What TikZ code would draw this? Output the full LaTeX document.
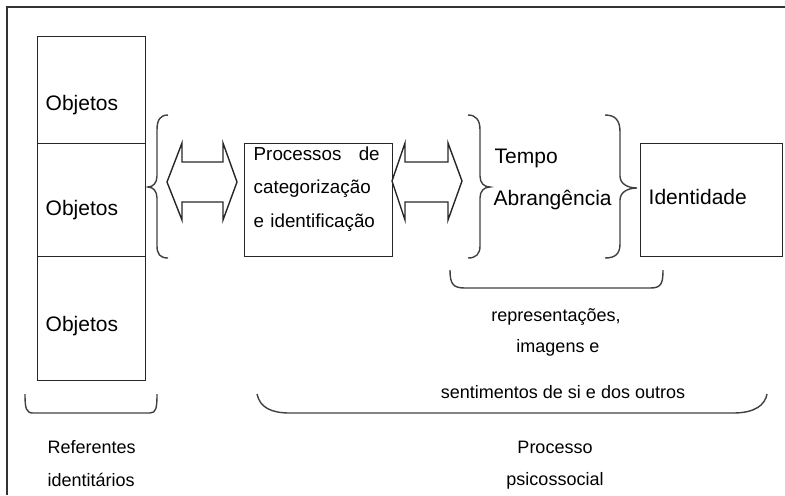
\documentclass[tikz,border=0pt]{standalone}
\usepackage{fontspec}
\setmainfont{Liberation Sans}
\usetikzlibrary{positioning}

\begin{document}
\begin{tikzpicture}[x=0.5pt, y=-0.5pt, line width=0.7pt,
    box/.style = {draw=black!85, inner sep=0pt, anchor=north west},
    bigtext/.style = {inner sep=0pt, anchor=base west, font=\fontsize{10.5}{12}\selectfont},
    smalltext/.style = {inner sep=0pt, anchor=base, font=\fontsize{9}{11}\selectfont},
    curly/.style = {draw=black!75},
    dblarrow/.style = {draw=black!85, line join=miter}]

    \useasboundingbox (0,0) rectangle (785,495);

    % frame
    \draw[black!80] (7,495) -- (7,7) -- (785,7);

    % boxes
    \node[box, minimum width=54pt, minimum height=53.5pt] (obj1) at (37,36) {};
    \node[box, minimum width=54pt, minimum height=56.5pt] (obj2) at (37,143) {};
    \node[box, minimum width=54pt, minimum height=62pt] (obj3) at (37,256) {};
    \node[box, minimum width=74pt, minimum height=56.5pt] (proc) at (244,143) {};
    \node[box, minimum width=71pt, minimum height=56.5pt] (ident) at (640,143) {};

    % texts in the boxes
    \node[bigtext] (tobj1) at (45,110) {Objetos};
    \node[bigtext] (tobj2) at (45,215) {Objetos};
    \node[bigtext] (tobj3) at (45,331) {Objetos};
    \node[inner sep=0pt, anchor=north west, text width=63pt, align=left,
          font=\fontsize{9.4}{16.75}\selectfont] (tproc) at (253,146)
          {Processos\hfill de\\categorização\\e identificação};
    \node[bigtext] (tident) at (648,204) {Identidade};
    \node[bigtext] (ttempo) at (494,163) {Tempo};
    \node[bigtext] (tabr) at (493,205) {Abrangência};

    % braces
    \draw[curly] (168,115) .. controls (160,115) and (157,120) .. (157,130) -- (157,176)
        .. controls (157,183) and (153,187) .. (148,187) .. controls (153,187) and (157,191) .. (157,198)
        -- (157,246) .. controls (157,254) and (160,258) .. (168,258);
    \draw[curly] (468,115) .. controls (476,115) and (480,120) .. (480,130) -- (480,176)
        .. controls (480,183) and (484,187) .. (490,187) .. controls (484,187) and (480,191) .. (480,198)
        -- (480,246) .. controls (480,254) and (476,258) .. (468,258);
    \draw[curly] (605,115) .. controls (615,115) and (620,120) .. (620,132) -- (620,176)
        .. controls (620,184) and (628,188) .. (637,188) .. controls (628,188) and (620,192) .. (620,200)
        -- (620,244) .. controls (620,254) and (615,258) .. (605,258);

    % double arrows
    \draw[dblarrow] (167,182) -- (182,143) -- (182,162) -- (223,162) -- (223,143) -- (237,182)
        -- (223,220) -- (223,202) -- (182,202) -- (182,220) -- cycle;
    \draw[dblarrow] (392,181) -- (405,143) -- (405,162) -- (448,162) -- (448,143) -- (462,181)
        -- (448,220) -- (448,202) -- (405,202) -- (405,220) -- cycle;

    % brackets below
    \draw[curly] (450,270) .. controls (450,284) and (453,288) .. (465,288) -- (650,288)
        .. controls (661,288) and (663,284) .. (663,270);
    \draw[curly] (257,394) .. controls (260,408) and (272,413) .. (290,413) -- (733,413)
        .. controls (755,413) and (765,405) .. (767,394);
    \draw[curly] (25,394) .. controls (25,408) and (26,413) .. (33,413) -- (150,413)
        .. controls (156,413) and (157,408) .. (157,394);

    % texts below
    \node[smalltext] (trep) at (556,321) {representações,};
    \node[smalltext] (timg) at (558,352) {imagens e};
    \node[smalltext] (tsent) at (563,398) {sentimentos de si e dos outros};
    \node[smalltext] (tproc1) at (555,453) {Processo};
    \node[smalltext] (tproc2) at (555,485) {psicossocial};
    \node[smalltext, anchor=base west] (tref1) at (47,453) {Referentes};
    \node[smalltext, anchor=base west] (tref2) at (47,486) {identitários};

\end{tikzpicture}
\end{document}
